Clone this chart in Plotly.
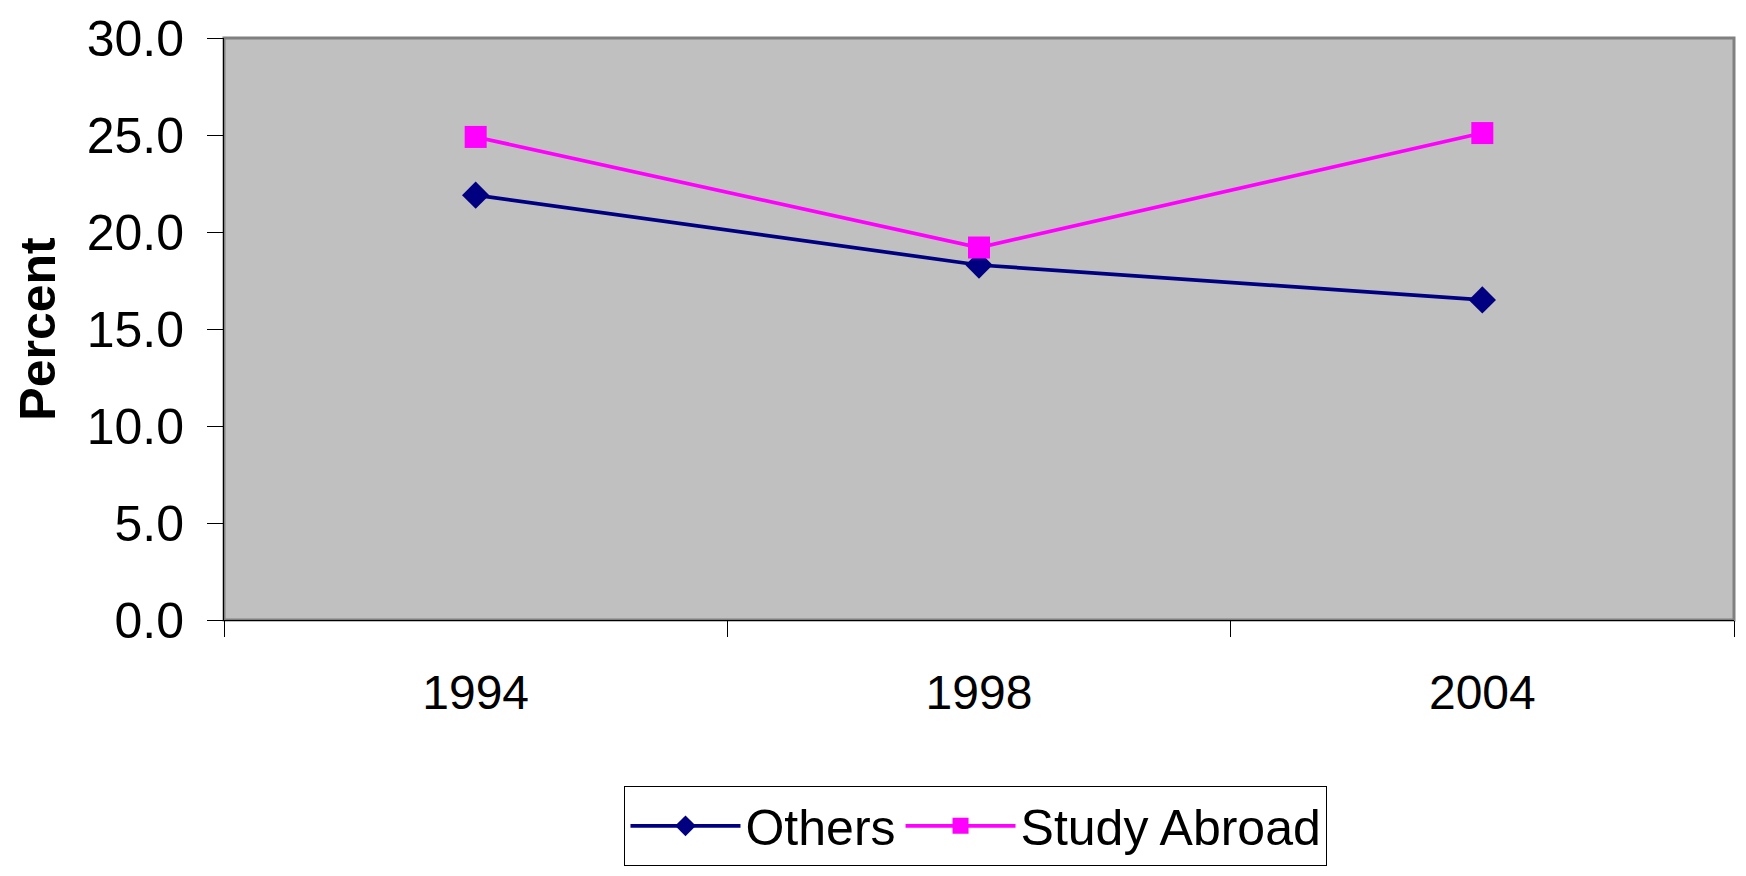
import plotly.graph_objects as go

years = ["1994", "1998", "2004"]
others = [21.9, 18.3, 16.5]
study_abroad = [24.9, 19.2, 25.1]
y_ticks = [0, 5, 10, 15, 20, 25, 30]

FONT = "Liberation Sans, Arial, sans-serif"

fig = go.Figure()
fig.add_trace(go.Scatter(
    x=years, y=others, name="Others", mode="lines+markers",
    line=dict(color="#000080", width=3.7),
    marker=dict(symbol="diamond", size=21, color="#000080"),
))
fig.add_trace(go.Scatter(
    x=years, y=study_abroad, name="Study Abroad", mode="lines+markers",
    line=dict(color="#FF00FF", width=3.7),
    marker=dict(symbol="square", size=22, color="#FF00FF"),
))

fig.update_layout(
    width=1730, height=860,
    margin=dict(l=216, r=4, t=30, b=248, autoexpand=False),
    paper_bgcolor="white",
    plot_bgcolor="#C0C0C0",
    font=dict(family=FONT, size=48, color="black"),
    showlegend=True,
    legend=dict(
        orientation="h", x=0.498, xanchor="center", y=-0.285, yanchor="top",
        bordercolor="black", borderwidth=1, bgcolor="white",
        font=dict(family=FONT, size=50, color="black"),
        itemwidth=110, traceorder="normal",
    ),
    xaxis=dict(
        type="category", range=[-0.5, 2.5], automargin=False,
        tickson="boundaries", ticks="outside", ticklen=16, tickcolor="black",
        showline=True, linecolor="black", linewidth=1,
        showgrid=False, zeroline=False,
        ticklabelstandoff=30,
        tickfont=dict(family=FONT, size=48),
    ),
    yaxis=dict(
        range=[0, 30], tickvals=y_ticks, tickformat=".1f", automargin=False,
        ticks="outside", ticklen=16, tickcolor="black",
        showline=True, linecolor="black", linewidth=1,
        showgrid=False, zeroline=False,
        ticklabelstandoff=13, ticklabeloverflow="allow",
        tickfont=dict(family=FONT, size=50),
        title=dict(text="<b>Percent</b>", font=dict(family=FONT, size=50), standoff=15),
    ),
    shapes=[dict(type="rect", xref="paper", yref="paper", x0=0, x1=1, y0=0, y1=1,
                 line=dict(color="#808080", width=3), layer="below")],
)

fig.write_html("out.html")
